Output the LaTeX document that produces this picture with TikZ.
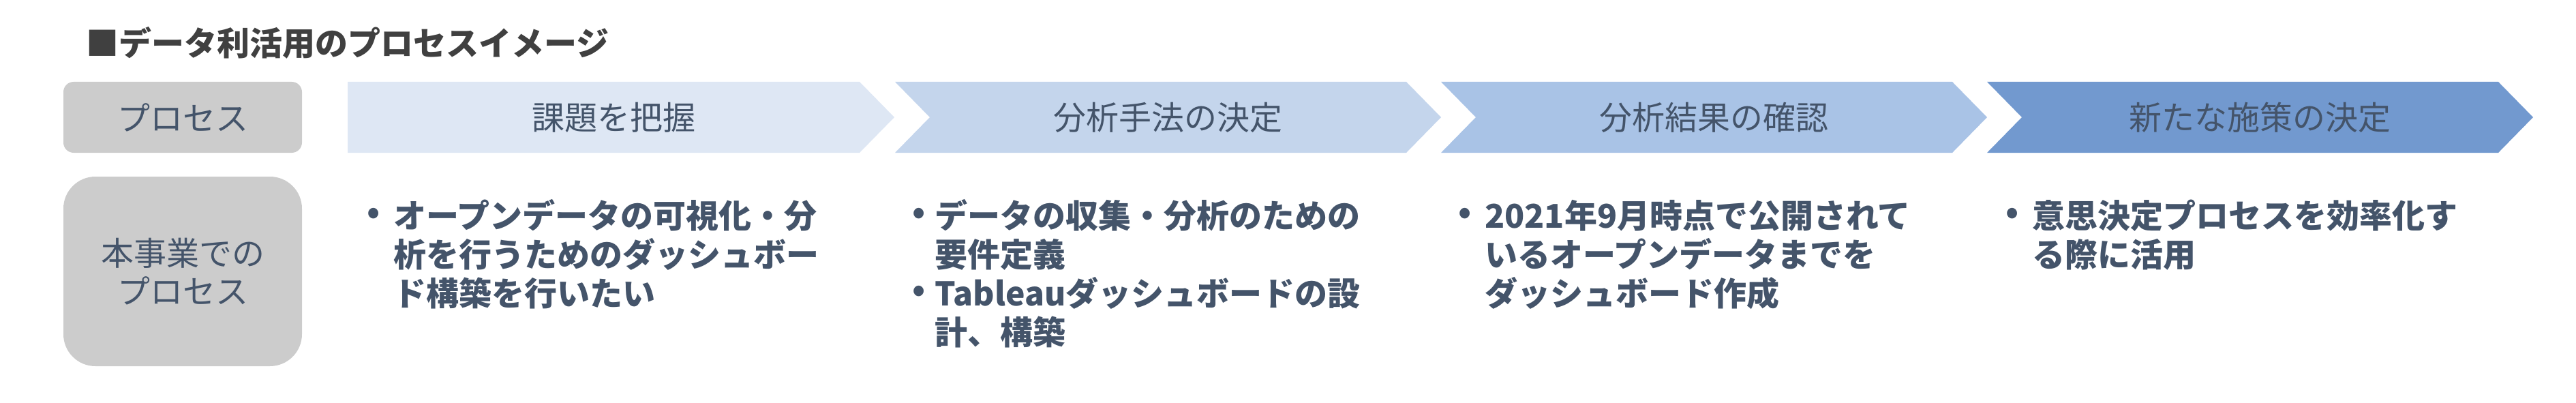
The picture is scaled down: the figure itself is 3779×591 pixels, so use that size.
\documentclass[tikz,border=0pt]{standalone}
\usepackage{fontspec}
\newfontfamily\jp{Noto Sans CJK JP}
\definecolor{txt}{HTML}{44546A}
\definecolor{ttl}{HTML}{404040}
\definecolor{boxgray}{HTML}{CCCCCC}
\definecolor{cA}{HTML}{DEE7F4}
\definecolor{cB}{HTML}{C4D5EC}
\definecolor{cC}{HTML}{A9C3E6}
\definecolor{cD}{HTML}{7299CF}
\begin{document}
\begin{tikzpicture}[x=1pt,y=-1pt,
  titlestyle/.style={font=\jp\bfseries\fontsize{48}{57}\selectfont, text=ttl, inner sep=0, anchor=base west},
  graybox/.style={fill=boxgray, inner sep=0, minimum width=350pt, text=txt, align=center,
     font=\jp\fontsize{48}{56}\selectfont},
  chevlabel/.style={font=\jp\fontsize{48}{57}\selectfont, text=txt, inner sep=0},
  bulletdot/.style={font=\jp\bfseries\fontsize{48}{57}\selectfont, text=txt, inner sep=0, anchor=center},
  bulletline/.style={font=\jp\bfseries\fontsize{48}{57}\selectfont, text=txt, inner sep=0, anchor=base west}
]
\useasboundingbox (0,0) rectangle (3779,591);

% title
\node[titlestyle] (title) at (126,82) {■データ利活用のプロセスイメージ};

% left gray boxes
\node[graybox, rounded corners=15pt, minimum height=104pt] (proc) at (268,172) {プロセス};
\node[graybox, rounded corners=47pt, minimum height=278pt] (ours) at (268,398) {本事業での\\プロセス};

% chevrons
\fill[cA] (510,120) -- (1261,120) -- (1312,172) -- (1261,224) -- (510,224) -- cycle;
\fill[cB] (1313,120) -- (2063,120) -- (2114,172) -- (2063,224) -- (1313,224) -- (1364,172) -- cycle;
\fill[cC] (2114,120) -- (2864,120) -- (2915,172) -- (2864,224) -- (2114,224) -- (2165,172) -- cycle;
\fill[cD] (2915,120) -- (3665,120) -- (3716,172) -- (3665,224) -- (2915,224) -- (2966,172) -- cycle;

\node[chevlabel] (s1) at (900,172) {課題を把握};
\node[chevlabel] (s2) at (1713,172) {分析手法の決定};
\node[chevlabel] (s3) at (2514,172) {分析結果の確認};
\node[chevlabel] (s4) at (3315,172) {新たな施策の決定};

% column 1
\node[bulletdot] (b1a) at (548,316) {•};
\node[bulletline] (t1a) at (577,334) {オープンデータの可視化・分};
\node[bulletline] (t1b) at (577,391) {析を行うためのダッシュボー};
\node[bulletline] (t1c) at (577,448) {ド構築を行いたい};

% column 2
\node[bulletdot] (b2a) at (1348,316) {•};
\node[bulletline] (t2a) at (1371,334) {データの収集・分析のための};
\node[bulletline] (t2b) at (1371,391) {要件定義};
\node[bulletdot] (b2b) at (1348,430) {•};
\node[bulletline] (t2c) at (1371,448) {Tableauダッシュボードの設};
\node[bulletline] (t2d) at (1371,505) {計、構築};

% column 3
\node[bulletdot] (b3a) at (2149,316) {•};
\node[bulletline] (t3a) at (2178,334) {2021年9月時点で公開されて};
\node[bulletline] (t3b) at (2178,391) {いるオープンデータまでを};
\node[bulletline] (t3c) at (2178,448) {ダッシュボード作成};

% column 4
\node[bulletdot] (b4a) at (2952,316) {•};
\node[bulletline] (t4a) at (2981,334) {意思決定プロセスを効率化す};
\node[bulletline] (t4b) at (2981,391) {る際に活用};
\end{tikzpicture}
\end{document}
